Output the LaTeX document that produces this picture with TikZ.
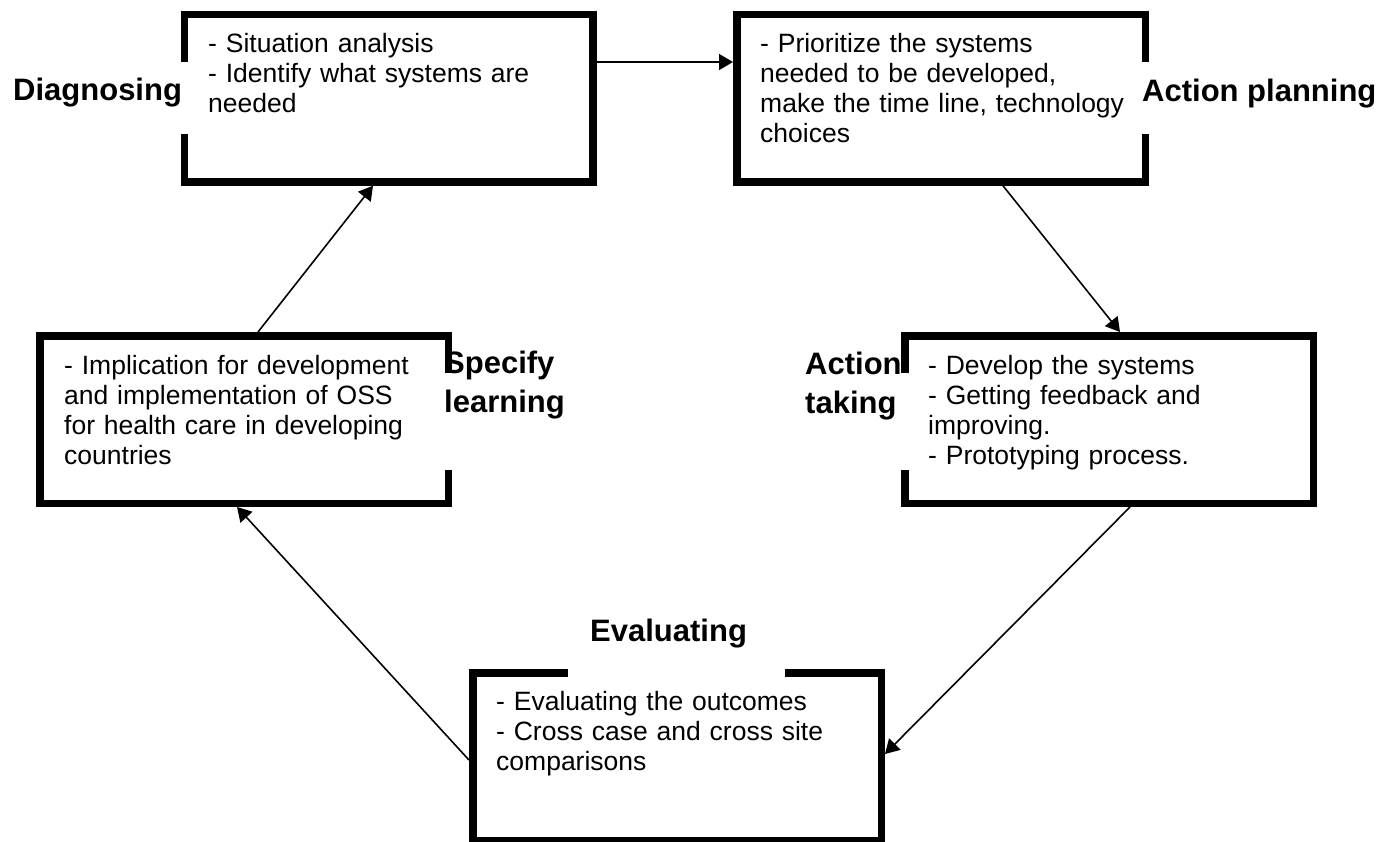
\documentclass[tikz,border=0pt]{standalone}
\usepackage{fontspec}
\setmainfont{Liberation Sans}
\usetikzlibrary{arrows.meta}
\tikzset{
  box/.style={draw=black, line width=7.5pt, minimum width=408.5pt, minimum height=167.5pt, outer sep=3.75pt, inner sep=0pt},
  body/.style={anchor=base west, inner sep=0pt, text width=420pt, align=left, font=\fontsize{26.5}{30}\selectfont},
  tag/.style={anchor=base west, inner sep=0pt, align=left, font=\fontsize{31}{39}\selectfont\bfseries},
  gap/.style={fill=white, draw=none},
  arr/.style={line width=1.6pt, -{Triangle[length=14pt,width=16pt]}}
}
\begin{document}
\begin{tikzpicture}[x=1pt, y=-1pt]
\useasboundingbox (0,0) rectangle (1396,842);
% boxes
\node[box] (dg) at (388.5,98.25) {};
\node[box] (ap) at (941,98.25) {};
\node[box] (sl) at (244,419.5) {};
\node[box] (at) at (1109,419.5) {};
\node[box] (ev) at (677,756.5) {};
% openings in the borders behind the labels
\fill[gap] (177,62) rectangle (191,134);
\fill[gap] (1138,62) rectangle (1152,134);
\fill[gap] (441,373) rectangle (455,470);
\fill[gap] (898,373) rectangle (912,470);
\fill[gap] (568,666) rectangle (785,680);
% box texts
\node[body] (tdg) at (208,53) {- Situation analysis\\- Identify what systems are\\needed};
\node[body] (tap) at (760,53) {- Prioritize the systems\\needed to be developed,\\make the time line, technology\\choices};
\node[body] (tsl) at (64,374) {- Implication for development\\and implementation of OSS\\for health care in developing\\countries};
\node[body] (tat) at (928,374) {- Develop the systems\\- Getting feedback and\\improving.\\- Prototyping process.};
\node[body] (tev) at (496,710) {- Evaluating the outcomes\\- Cross case and cross site\\comparisons};
% labels
\node[tag] (ldg) at (13,101) {Diagnosing};
\node[tag] (lap) at (1142,102) {Action planning};
\node[tag] (lsl) at (444,412) {Specify\\learning};
\node[tag] (lat) at (805,413) {Action\\taking};
\node[tag] (lev) at (590,641) {Evaluating};
% connectors
\draw[arr] (dg.east |- 0,62) -- (ap.west |- 0,62);
\draw[arr] (ap.south -| 1003,0) -- (at.north -| 1120,0);
\draw[arr] (at.south -| 1130,0) -- (ev.east |- 0,754);
\draw[arr] (ev.west |- 0,760) -- (sl.south -| 237,0);
\draw[arr] (sl.north -| 258,0) -- (dg.south -| 373,0);
\end{tikzpicture}
\end{document}
